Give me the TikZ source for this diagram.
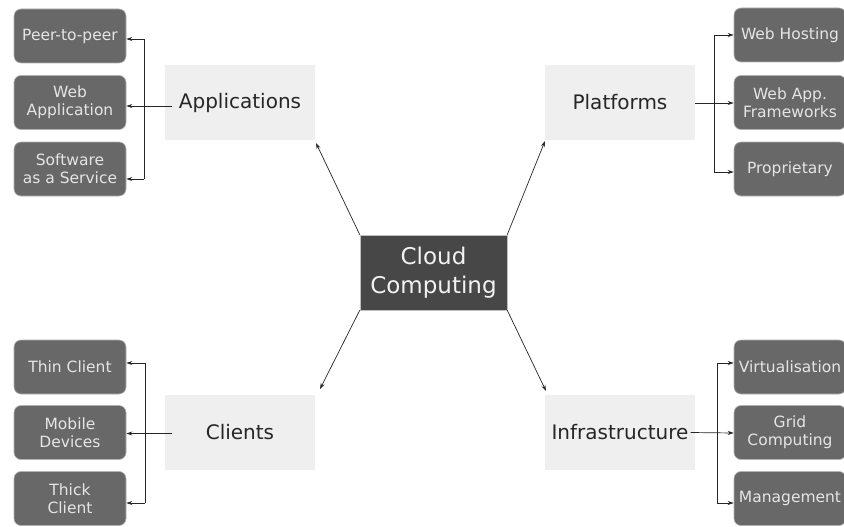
\documentclass[tikz,border=0pt]{standalone}
\usepackage{fontspec}
\setmainfont{DejaVu Sans}
\usetikzlibrary{arrows.meta,positioning}
\definecolor{leafgray}{HTML}{686868}
\definecolor{coregray}{HTML}{474747}
\definecolor{catgray}{HTML}{EFEFEF}
\begin{document}
\begin{tikzpicture}[x=1pt,y=-1pt,
  leaf/.style={rounded corners=7pt, fill=leafgray, draw=gray!60, line width=0.6pt, minimum width=112pt, minimum height=54pt, text=white!90!black, font=\fontsize{15.5}{18}\selectfont, align=center, inner sep=0pt},
  cat/.style={fill=catgray, minimum width=150pt, minimum height=75pt, text=black!85, font=\fontsize{20}{24}\selectfont},
  core/.style={fill=coregray, draw=gray!50, minimum width=147pt, minimum height=75pt, text=white!95!black, font=\fontsize{23}{29}\selectfont, align=center},
  arr/.style={-{Stealth[length=6pt,width=4pt]}, line width=0.7pt, black!85},
  ln/.style={line width=0.7pt, black!85}]
\useasboundingbox (0,0) rectangle (844,527);
\clip (0,0) rectangle (844,527);
\fill[white] (0,0) rectangle (844,527);

% core
\node[core] (cc) at (433.5,272.5) {Cloud\\Computing};

% categories
\node[cat] (app) at (240,102.5) {Applications};
\node[cat] (plat) at (620,102.5) {Platforms};
\node[cat] (cli) at (240,432.5) {Clients};
\node[cat] (inf) at (620,432.5) {};
\node[font=\fontsize{20}{24}\selectfont, text=black!85, inner sep=0pt] (inft) at (620,432.5) {Infrastructure};

% left leaves
\node[leaf] (p2p) at (70,36) {Peer-to-peer};
\node[leaf] (webapp) at (70,102.5) {Web\\Application};
\node[leaf] (saas) at (70,169) {Software\\as a Service};
\node[leaf] (thin) at (70,367) {Thin Client};
\node[leaf] (mob) at (70,432.5) {Mobile\\Devices};
\node[leaf] (thick) at (70,498.5) {Thick\\Client};

% right leaves
\node[leaf] (wh) at (790,35) {Web Hosting};
\node[leaf] (waf) at (790,102.5) {Web App.\\Frameworks};
\node[leaf] (prop) at (790,169) {Proprietary};
\node[leaf] (virt) at (790,367) {Virtualisation};
\node[leaf] (grid) at (790,432.5) {Grid\\Computing};
\node[leaf] (mgmt) at (790,498.5) {Management};

% bracket coordinates
\coordinate (lb1) at (144,39);
\coordinate (lb3) at (144,179);
\coordinate (lc1) at (145,363);
\coordinate (lc3) at (145,503);
\coordinate (rb1) at (714,35);
\coordinate (rb3) at (714,172);
\coordinate (ri1) at (717,363);
\coordinate (ri3) at (717,503);

% applications
\draw[ln] (lb1) -- (lb3);
\draw[arr] (lb1) -- (p2p.east |- lb1);
\draw[arr] (lb3) -- (saas.east |- lb3);
\draw[arr] (app.west) ++(7,3.5) -- (webapp.east |- 0,106);
% clients
\draw[ln] (lc1) -- (lc3);
\draw[arr] (lc1) -- (thin.east |- lc1);
\draw[arr] (lc3) -- (thick.east |- lc3);
\draw[arr] (cli.west) ++(7,1) -- (mob.east |- 0,433.5);
% platforms
\draw[ln] (rb1) -- (rb3);
\draw[arr] (rb1) -- (wh.west |- rb1);
\draw[arr] (rb3) -- (prop.west |- rb3);
\draw[arr] (plat.east) ++(0,0.5) -- (waf.west |- 0,103);
% infrastructure
\draw[ln] (ri1) -- (ri3);
\draw[arr] (ri1) -- (virt.west |- ri1);
\draw[arr] (ri3) -- (mgmt.west |- ri3);
\draw[arr] (inft.east) ++(2,0) -- (grid.west |- 0,433);

% diagonals
\draw[arr] (cc.north west) -- (316,143);
\draw[arr] (cc.north east) -- (545,141);
\draw[arr] (cc.south west) -- (320,389);
\draw[arr] (cc.south east) -- (546,391);
\end{tikzpicture}
\end{document}
